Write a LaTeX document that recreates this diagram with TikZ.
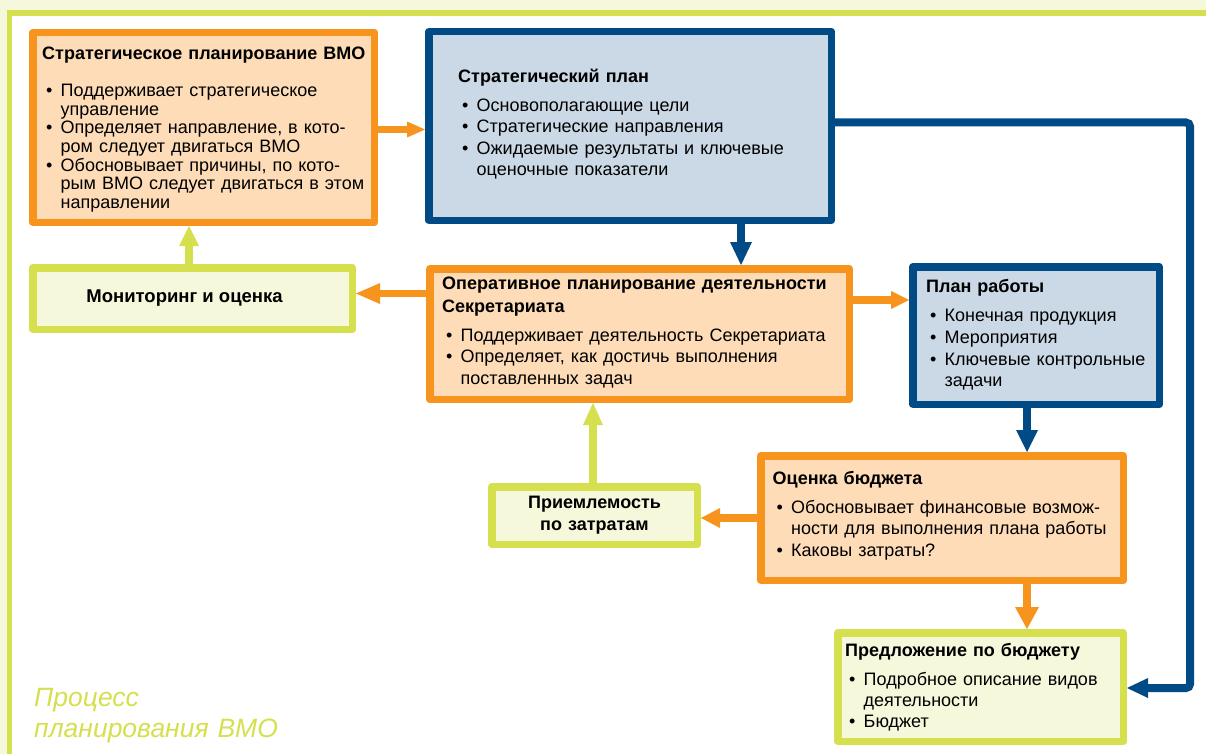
\documentclass[tikz,border=0pt]{standalone}
\usepackage{fontspec}
\setmainfont{Liberation Sans}
\usetikzlibrary{arrows.meta}
\definecolor{orB}{HTML}{F7941D}
\definecolor{orF}{HTML}{FDDCB7}
\definecolor{blB}{HTML}{004A86}
\definecolor{blF}{HTML}{CAD9E5}
\definecolor{grB}{HTML}{D6E04F}
\definecolor{grF}{HTML}{F5F8DB}
\newcommand\bitem[1]{\par\leftskip=18.5pt\noindent\hspace*{-14.5pt}\makebox[14.5pt][l]{•}#1}
\tikzset{
  box/.style={rectangle, line width=7.5pt, line join=round, outer sep=3.75pt, inner sep=0pt},
  obox/.style={box, draw=orB, fill=orF},
  bbox/.style={box, draw=blB, fill=blF},
  gbox/.style={box, draw=grB, fill=grF},
  tx/.style={anchor=base west, inner sep=0pt, align=left, text width=400pt},
  conn/.style n args={3}{draw=#1, line width=7.5pt, -{Triangle[length=#2, width=#3, line width=0pt]}},
}
\begin{document}
\begin{tikzpicture}[x=1pt, y=-1pt]
\useasboundingbox (0,0) rectangle (1206,754);
\clip (0,0) rectangle (1206,754);
\fill[grF] (0,0) rectangle (1206,754);
\draw[grB, line width=5.5pt, fill=white] (9.5,13) rectangle (1240,790);

% boxes
\node[obox, minimum width=341.5pt, minimum height=189.5pt] (strat) at (203.5,127.5) {};
\node[bbox, minimum width=402.5pt, minimum height=188.5pt] (plan) at (630,126) {};
\node[gbox, minimum width=319.5pt, minimum height=61.5pt, font=\fontsize{18.5}{21}\selectfont\bfseries] (monitor) at (192.5,298.5) {\hspace*{-16pt}Мониторинг и оценка};
\node[obox, minimum width=419.5pt, minimum height=130.5pt] (oper) at (639.5,334) {};
\node[bbox, minimum width=246.5pt, minimum height=137.5pt] (work) at (1036,335.5) {};
\node[gbox, minimum width=205.5pt, minimum height=57.5pt, text width=200pt, align=center, font=\fontsize{18}{21.7}\selectfont\bfseries] (accept) at (594.5,515.5) {Приемлемость\\по затратам};
\node[obox, minimum width=362.5pt, minimum height=124.5pt] (budget) at (942,518) {};
\node[gbox, minimum width=285.5pt, minimum height=108.5pt] (proposal) at (980.5,687) {};

% texts
\node[tx, font=\fontsize{18}{18.6}\selectfont] (t1) at (42,59.3) {\textbf{Стратегическое планирование ВМО}\par\vspace{18.8pt}%
\bitem{Поддерживает стратегическое\newline управление}%
\bitem{Определяет направление, в кото-\newline ром следует двигаться ВМО}%
\bitem{Обосновывает причины, по кото-\newline рым ВМО следует двигаться в этом\newline направлении}\par};

\node[tx, font=\fontsize{18}{21.4}\selectfont] (t2) at (458,82.5) {\textbf{Стратегический план}\par\vspace{7.6pt}%
\bitem{Основополагающие цели}%
\bitem{Стратегические направления}%
\bitem{Ожидаемые результаты и ключевые\newline оценочные показатели}\par};

\node[tx, font=\fontsize{18}{21.2}\selectfont] (t4) at (442,289) {\textbf{Оперативное планирование деятельности}\par\vspace{2.5pt}\textbf{Секретариата}\par\vspace{7.8pt}%
\bitem{Поддерживает деятельность Секретариата}%
\bitem{Определяет, как достичь выполнения\newline поставленных задач}\par};

\node[tx, font=\fontsize{18}{21.7}\selectfont] (t5) at (926,292.7) {\textbf{План работы}\par\vspace{7.3pt}%
\bitem{Конечная продукция}%
\bitem{Мероприятия}%
\bitem{Ключевые контрольные\newline задачи}\par};

\node[tx, font=\fontsize{18}{21.4}\selectfont] (t7) at (772.5,484) {\textbf{Оценка бюджета}\par\vspace{7.9pt}%
\bitem{Обосновывает финансовые возмож-\newline ности для выполнения плана работы}%
\bitem{Каковы затраты?}\par};

\node[tx, font=\fontsize{18}{21}\selectfont] (t8) at (845,656.7) {\textbf{Предложение по бюджету}\par\vspace{7.3pt}%
\bitem{Подробное описание видов\newline деятельности}%
\bitem{Бюджет}\par};

\node[tx, font=\fontsize{26.5}{31}\selectfont\itshape, text=grB] (title) at (34,706) {Процесс\\планирования ВМО};

% helper coordinates
\coordinate (yA) at (0,129.5);
\coordinate (xB) at (741,0);
\coordinate (yC) at (0,122.5);
\coordinate (bend) at (1190,688);
\coordinate (yD) at (0,300);
\coordinate (yE) at (0,293.5);
\coordinate (xF) at (189,0);
\coordinate (xG) at (1027,0);
\coordinate (xJ) at (593,0);

% connectors
\draw[conn={orB}{18pt}{16pt}] (strat.east |- yA) -- (plan.west |- yA);
\draw[conn={blB}{23pt}{22pt}, line width=8pt] (plan.south -| xB) -- (oper.north -| xB);
\draw[conn={blB}{21pt}{20pt}, line width=8pt, rounded corners=4pt] (plan.east |- yC) -| (bend) -- (proposal.east |- bend);
\draw[conn={orB}{18pt}{18pt}] (oper.east |- yD) -- (work.west |- yD);
\draw[conn={orB}{24pt}{21pt}] (oper.west |- yE) -- (monitor.east |- yE);
\draw[conn={grB}{20pt}{20pt}] (monitor.north -| xF) -- (strat.south -| xF);
\draw[conn={blB}{22pt}{22pt}, line width=8pt] (work.south -| xG) -- (budget.north -| xG);
\draw[conn={orB}{22pt}{24pt}] (budget.south -| xG) -- (proposal.north -| xG);
\draw[conn={orB}{19pt}{20pt}] (budget.west) -- (accept.east |- budget.west);
\draw[conn={grB}{22pt}{20pt}] (accept.north -| xJ) -- (oper.south -| xJ);
\end{tikzpicture}
\end{document}
